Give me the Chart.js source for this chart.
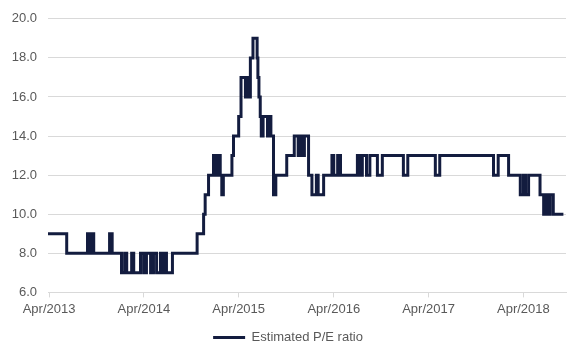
<!DOCTYPE html>
<html>
<head>
<meta charset="utf-8">
<script src="https://cdn.jsdelivr.net/npm/chart.js@4/dist/chart.umd.min.js"></script>
<style>
  html, body { margin: 0; padding: 0; background: #fff; }
  #wrap { width: 582px; height: 360px; }
</style>
</head>
<body>
<div id="wrap"><canvas id="myChart"></canvas></div>
<script>
// change points of the weekly estimate (value holds until the next date)
const dates = [
    '2013-03-28', '2013-06-08', '2013-08-27', '2013-09-04', '2013-09-12', '2013-09-20', '2013-11-20', '2013-11-30',
    '2014-01-05', '2014-01-17', '2014-01-25', '2014-02-13', '2014-02-21', '2014-03-19', '2014-03-31', '2014-04-11',
    '2014-04-27', '2014-05-08', '2014-05-20', '2014-06-04', '2014-06-12', '2014-06-23', '2014-06-27', '2014-07-20',
    '2014-10-23', '2014-11-17', '2014-11-23', '2014-12-06', '2014-12-25', '2015-01-01', '2015-01-06', '2015-01-12',
    '2015-01-16', '2015-01-20', '2015-01-26', '2015-02-01', '2015-03-06', '2015-03-12', '2015-04-01', '2015-04-10',
    '2015-04-27', '2015-05-02', '2015-05-08', '2015-05-16', '2015-05-26', '2015-06-11', '2015-06-14', '2015-06-18',
    '2015-06-23', '2015-06-27', '2015-07-04', '2015-07-21', '2015-07-29', '2015-08-03', '2015-08-13', '2015-08-22',
    '2015-10-03', '2015-11-01', '2015-11-16', '2015-11-24', '2015-12-02', '2015-12-10', '2015-12-26', '2016-01-08',
    '2016-01-25', '2016-02-01', '2016-02-22', '2016-03-25', '2016-04-01', '2016-04-16', '2016-04-27', '2016-07-01',
    '2016-07-09', '2016-07-20', '2016-08-05', '2016-08-18', '2016-09-16', '2016-10-05', '2016-12-25', '2017-01-11',
    '2017-04-27', '2017-05-14', '2017-12-07', '2017-12-25', '2018-02-03', '2018-03-20', '2018-04-01', '2018-04-09',
    '2018-04-21', '2018-06-04', '2018-06-18', '2018-06-27', '2018-07-05', '2018-07-13', '2018-07-25', '2018-09-02'
];
const peRatio = [
    9, 8, 9, 8, 9, 8, 9, 8,
    7, 8, 7, 8, 7, 8, 7, 8,
    7, 8, 7, 8, 7, 8, 7, 8,
    9, 10, 11, 12, 13, 12, 13, 12,
    13, 12, 11, 12, 13, 14, 15, 17,
    16, 17, 16, 18, 19, 18, 17, 16,
    15, 14, 15, 14, 15, 14, 11, 12,
    13, 14, 13, 14, 13, 14, 12, 11,
    12, 11, 12, 13, 12, 13, 12, 13,
    12, 13, 12, 13, 12, 13, 12, 13,
    12, 13, 12, 13, 12, 11, 12, 11,
    12, 11, 10, 11, 10, 11, 10, 10
];
const tickYears = [2013, 2014, 2015, 2016, 2017, 2018];
const seriesLabel = 'Estimated P/E ratio';

const points = dates.map((d, i) => ({ x: Date.parse(d), y: peRatio[i] }));
const grey = '#595959';
const font = { family: '"Liberation Sans", Arial, sans-serif', size: 13 };

const ctx = document.getElementById('myChart');
const chart = new Chart(ctx, {
    type: 'line',
    data: {
        datasets: [{
            label: seriesLabel,
            data: points,
            borderColor: '#131c3f',
            backgroundColor: '#131c3f',
            borderWidth: 3,
            pointRadius: 0,
            stepped: true,
            fill: false
        }]
    },
    options: {
        responsive: true,
        maintainAspectRatio: false,
        animation: false,
        layout: { padding: { top: 11, right: 16, bottom: 6, left: 10 } },
        plugins: {
            tooltip: { enabled: false },
            legend: {
                position: 'bottom',
                labels: {
                    usePointStyle: true,
                    pointStyle: 'line',
                    pointStyleWidth: 32,
                    color: grey,
                    font: font,
                    padding: 10
                }
            }
        },
        scales: {
            x: {
                type: 'linear',
                min: Date.parse('2013-03-28'),
                max: Date.parse('2018-09-12'),
                afterBuildTicks: scale => {
                    scale.ticks = tickYears.map(y => ({ value: Date.UTC(y, 3, 1) }));
                },
                ticks: {
                    autoSkip: false,
                    maxRotation: 0,
                    color: grey,
                    font: font,
                    padding: 4,
                    callback: v => 'Apr/' + new Date(v).getUTCFullYear()
                },
                grid: {
                    drawOnChartArea: false,
                    drawTicks: true,
                    tickLength: 5,
                    color: '#d9d9d9'
                },
                border: { display: true, color: '#d9d9d9' }
            },
            y: {
                min: 6,
                max: 20,
                afterFit: scale => { scale.width = 38; },
                ticks: {
                    stepSize: 2,
                    color: grey,
                    font: font,
                    padding: 11,
                    callback: v => v.toFixed(1)
                },
                grid: {
                    color: '#d9d9d9',
                    drawTicks: false
                },
                border: { display: false }
            }
        }
    }
});
</script>
</body>
</html>
